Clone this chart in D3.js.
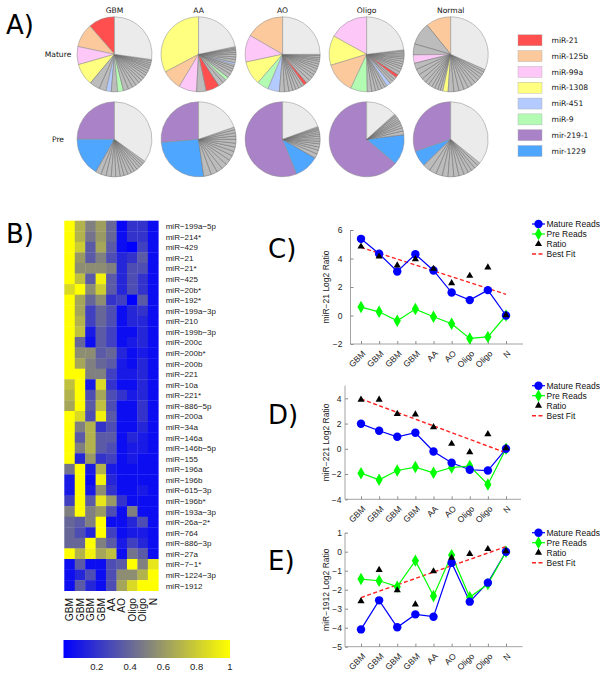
<!DOCTYPE html>
<html><head><meta charset="utf-8">
<script src="https://cdn.jsdelivr.net/npm/d3@7"></script>
<style>body{margin:0;background:#fff}</style>
</head><body>
<svg id="chart" width="605" height="675" xmlns="http://www.w3.org/2000/svg"></svg>
<script>
// ---------------- DATA ----------------
const pieGroups = ["GBM", "AA", "AO", "Oligo", "Normal"];
const pieRows = ["Mature", "Pre"];
const legendKeys = ["miR-21", "miR-125b", "miR-99a", "miR-1308", "miR-451", "miR-9", "mir-219-1", "mir-1229"];
const legendColors = ["#ff4f4f", "#fbc99b", "#fdc8f7", "#ffff80", "#b4cbff", "#b3fbb3", "#a982c7", "#4fa6ff"];
// slices counter-clockwise from 12 o'clock, values in degrees; "g" = other listed miRNA, "other" = remainder
const matureGBM = [["miR-21",41],["miR-125b",37],["miR-99a",28],["miR-1308",34],["g",16],["g",11],["miR-451",8],["g",10],["miR-9",9],
  ["g",8],["g",7],["g",6],["g",6],["g",5],["g",5],["g",5],["g",4],["g",4],["g",4],["g",3],["g",3],["g",3],["g",3],["g",2],["other",98]];
const matureAA = [["miR-1308",118],["miR-125b",31],["miR-99a",28],["g",15],["miR-21",21],["g",8],["g",6],["miR-9",5],
  ["g",6],["g",5],["g",4],["g",4],["g",3],["miR-451",3],["g",5],["g",4],["g",4],["g",3],["g",3],["g",2],["g",2],["g",2],["other",78]];
const matureAO = [["miR-125b",60],["miR-99a",42],["miR-1308",37],["miR-9",18],["miR-451",18],["g",8],["g",7],["g",6],["g",5],["g",5],["g",5],["g",4],
  ["miR-21",5],["g",6],["g",6],["g",5],["g",5],["g",5],["g",4],["g",4],["g",4],["g",3],["g",3],["g",3],["g",2],["other",90]];
const matureOligo = [["miR-99a",61],["miR-1308",46],["miR-125b",48],["miR-9",26],["g",7],["g",6],["g",5],["g",5],["g",5],["g",4],["miR-451",6],
  ["g",5],["g",4],["g",4],["miR-21",5],["g",5],["g",5],["g",4],["g",4],["g",4],["g",4],["g",3],["g",3],["g",3],["g",3],["g",2],["other",83]];
const matureNormal = [["miR-125b",39],["g",35],["g",17],["miR-99a",13],["g",10],["g",9],["g",8],["g",7],["g",6],["g",6],["g",5],["g",5],["g",4],["g",4],
  ["miR-1308",8],["g",9],["g",8],["g",8],["g",7],["g",7],["g",6],["g",6],["g",5],["g",5],["g",5],["g",4],["other",114]];
const preGBM = [["mir-219-1",90],["mir-1229",60],["g",9],["g",8],["g",8],["g",7],["g",7],["g",6],["g",6],["g",6],["g",5],["g",5],["g",5],["g",4],["g",4],["g",4],["other",126]];
const preAA = [["mir-219-1",95],["mir-1229",93],["g",12],["g",10],["g",9],["g",9],["g",8],["g",8],["g",7],["g",7],["g",6],["g",6],["g",5],["g",5],["g",5],["g",4],["other",71]];
const preAO = [["mir-219-1",202],["mir-1229",38],["g",7],["g",6],["g",5],["g",5],["g",4],["g",4],["g",4],["g",3],["g",3],["g",3],["g",2],["g",2],["g",2],["other",70]];
const preOligo = [["mir-219-1",230],["mir-1229",47],["g",6],["g",5],["g",4],["g",4],["g",3],["g",3],["g",3],["g",3],["g",2],["g",2],["other",48]];
const preNormal = [["mir-219-1",109],["mir-1229",25],["g",12],["g",11],["g",10],["g",9],["g",9],["g",8],["g",8],["g",7],["g",6],["g",6],["g",6],["g",5],["other",129]];

const heatRows = ["miR-199a-5p","miR-214*","miR-429","miR-21","miR-21*","miR-425","miR-20b*","miR-192*","miR-199a-3p","miR-210",
  "miR-199b-3p","miR-200c","miR-200b*","miR-200b","miR-221","miR-10a","miR-221*","miR-886-5p","miR-200a","miR-34a",
  "miR-146a","miR-146b-5p","miR-155","miR-196a","miR-196b","miR-615-3p","miR-196b*","miR-193a-3p","miR-26a-2*","miR-764",
  "miR-886-3p","miR-27a","miR-7-1*","miR-1224-3p","miR-1912"];
const heatCols = ["GBM","GBM","GBM","GBM","AA","AO","Oligo","Oligo","N"];
const heatValues = [
  [1,0.7,0.5,0.62,0.4,0.03,0.2,0.2,0.05],
  [1,0.7,0.45,0.6,0.4,0.05,0.2,0.2,0.05],
  [1,0.8,0.35,0.65,0.35,0.05,0.0,0.25,0.05],
  [1,0.6,0.35,0.5,0.3,0.15,0.2,0.35,0.05],
  [1,0.55,0.55,0.55,0.5,0.15,0.3,0.3,0.05],
  [1,0.75,0.35,0.95,0.35,0.15,0.3,0.2,0.05],
  [0.85,1,0.55,0.8,0.35,0.15,0.3,0.2,0.05],
  [1,0.65,0.4,0.55,0.2,0.25,0.0,0.35,0.05],
  [1,0.65,0.25,0.4,0.3,0.05,0.15,0.2,0.05],
  [1,0.7,0.25,0.4,0.3,0.05,0.15,0.15,0.05],
  [1,0.75,0.1,0.35,0.25,0.05,0.05,0.15,0.05],
  [1,0.4,0.05,0.35,0.25,0.05,0.1,0.15,0.05],
  [1,0.55,0.55,0.35,0.4,0.15,0.05,0.1,0.05],
  [1,0.65,0.5,0.4,0.35,0.1,0.05,0.15,0.05],
  [1,1,0.5,0.5,0.25,0.1,0.1,0.15,0.05],
  [0.75,1,0.1,0.85,0.2,0.05,0.05,0.15,0.05],
  [0.7,1,0.3,0.65,0.3,0.2,0.1,0.15,0.05],
  [0.65,1,0.35,0.75,0.3,0.05,0.05,0.2,0.05],
  [1,0.85,0.3,0.95,0.35,0.05,0.05,0.2,0.05],
  [1,0.5,0.7,0.2,0.3,0.05,0.05,0.15,0.05],
  [1,0.35,0.7,0.35,0.35,0.05,0.15,0.1,0.05],
  [1,0.5,0.7,0.35,0.3,0.05,0.1,0.1,0.05],
  [1,0.15,0.6,0.2,0.25,0.05,0.1,0.05,0.05],
  [0.45,1,0.1,0.7,0.1,0.05,0.05,0.05,0.05],
  [0.1,1,0.05,0.95,0.15,0.05,0.05,0.05,0.05],
  [0.1,1,0.1,0.55,0.2,0.05,0.05,0.1,0.05],
  [0.25,1,0.35,0.9,0.6,0.2,0.05,0.05,0.05],
  [0.5,1,0.5,0.6,0.3,0.05,0.5,0.05,0.05],
  [0.4,0.35,0.5,1,0.05,0.05,0.15,0.3,0.05],
  [0.4,0.3,0.15,1,0.25,0.05,0.1,0.1,0.05],
  [0.4,0.4,1,0.5,0.35,0.1,0.25,0.15,0.05],
  [1,0.7,0.95,0.65,0.75,0.05,0.45,0.35,0.05],
  [0.05,0.35,0.05,0.05,0.3,0.35,1,0.5,0.9],
  [0.05,0.15,0.3,0.05,0.3,0.55,0.55,0.7,1],
  [0.05,0.35,0.15,0.05,0.3,0.65,0.85,1,1]
];
const colorbarTicks = [0.2, 0.4, 0.6, 0.8, 1];

const samples = ["GBM","GBM","GBM","GBM","AA","AO","Oligo","Oligo","N"];
const mir21Mature = [5.38,4.33,3.09,4.3,3.16,1.61,1.08,1.78,0];
const mir21Pre = [0.59,0.26,-0.37,0.45,-0.09,-0.58,-1.61,-1.5,0];
const mir21Ratio = [4.84,4.14,3.51,3.96,3.28,2.27,2.79,3.37,0.03];
const mir221Mature = [1.98,1.43,0.95,1.27,-0.21,-1.11,-1.66,-1.72,0];
const mir221Pre = [-1.93,-2.46,-1.72,-1.45,-1.9,-1.48,-1.37,-2.83,0];
const mir221Ratio = [3.9,3.9,2.77,2.72,1.71,0.4,-0.27,1.16,0.05];
const mir1912Mature = [-4.09,-2.56,-3.98,-3.3,-3.42,-0.58,-2.63,-1.63,0];
const mir1912Pre = [-1.44,-1.53,-1.84,-0.47,-2.33,-0.18,-2.4,-1.7,0];
const mir1912Ratio = [-2.6,-0.96,-2.03,-2.77,-1.03,-0.32,-0.12,0.14,0.03];
const lineLegend = ["Mature Reads", "Pre Reads", "Ratio", "Best Fit"];

// ---------------- DRAW ----------------
const svg = d3.select("#chart");
svg.append("rect").attr("width",605).attr("height",675).attr("fill","#fff");
const dv = "DejaVu Sans, sans-serif";
const hv = "Liberation Sans, Arial, Helvetica, sans-serif";

function panelLabel(t, x, y) {
  svg.append("text").attr("x",x).attr("y",y).attr("font-family",dv).attr("font-size",26).attr("fill","#000").text(t);
}
panelLabel("A)", 6, 34);
panelLabel("B)", 6, 243);
panelLabel("C)", 268, 258);
panelLabel("D)", 268, 424);
panelLabel("E)", 268, 570);

// ---- Panel A: pies ----
const colorOf = Object.fromEntries(legendKeys.map((k,i)=>[k,legendColors[i]]));
colorOf["g"] = "#bcbcbc"; colorOf["other"] = "#ebebeb";
const pieTable = {
  Mature: {GBM: matureGBM, AA: matureAA, AO: matureAO, Oligo: matureOligo, Normal: matureNormal},
  Pre: {GBM: preGBM, AA: preAA, AO: preAO, Oligo: preOligo, Normal: preNormal}
};
const pieX = d3.scalePoint().domain(pieGroups).range([114.5, 450.7]);
const pieY = d3.scalePoint().domain(pieRows).range([54.3, 139.3]);
const R = 37.5;
const pie = d3.pie().value(d=>d[1]).sort(null).startAngle(0).endAngle(-2*Math.PI);
const arc = d3.arc().innerRadius(0).outerRadius(R);
pieRows.forEach(row => {
  pieGroups.forEach(grp => {
    const g = svg.append("g").attr("transform",`translate(${pieX(grp)},${pieY(row)})`);
    g.selectAll("path").data(pie(pieTable[row][grp])).join("path")
      .attr("d",arc).attr("fill",d=>colorOf[d.data[0]])
      .attr("stroke",d=>d.data[0]==="g"?"#6a6a6a":"#8a8a8a").attr("stroke-width",0.5).attr("stroke-linejoin","round");
  });
  svg.append("text").attr("x",58).attr("y",pieY(row)+2.5).attr("text-anchor","middle")
    .attr("font-family",dv).attr("font-size",7.6).attr("fill","#111").text(row);
});
pieGroups.forEach(grp => {
  svg.append("text").attr("x",pieX(grp)).attr("y",12.5).attr("text-anchor","middle")
    .attr("font-family",dv).attr("font-size",7.6).attr("fill","#111").text(grp);
});
const legY = d3.scalePoint().domain(legendKeys).range([40.3, 151]);
legendKeys.forEach((k,i) => {
  svg.append("rect").attr("x",518).attr("y",legY(k)-5.5).attr("width",24).attr("height",11)
    .attr("fill",legendColors[i]).attr("stroke","#aaa").attr("stroke-width",0.4);
  svg.append("text").attr("x",551.5).attr("y",legY(k)+2.7).attr("font-family",dv).attr("font-size",7.6)
    .attr("fill","#111").text(k);
});

// ---- Panel B: heatmap ----
const heatColor = d3.scaleLinear().domain([0,0.5,1]).range(["#0000ff","#808080","#ffff00"]);
const hx = d3.scaleBand().domain(d3.range(heatCols.length)).range([64.3, 158.3]);
const hy = d3.scaleBand().domain(d3.range(heatRows.length)).range([220.7, 590.7]);
heatValues.forEach((row, r) => {
  svg.append("g").selectAll("rect").data(row).join("rect")
    .attr("x",(d,c)=>hx(c)).attr("y",hy(r)).attr("width",hx.bandwidth()+0.3).attr("height",hy.bandwidth()+0.3)
    .attr("fill",d=>heatColor(d));
});
svg.append("g").selectAll("text").data(heatRows).join("text")
  .attr("x",165.7).attr("y",(d,i)=>hy(i)+hy.bandwidth()/2+3.2)
  .attr("font-family",hv).attr("font-size",8).attr("fill","#222")
  .text(d=>d.replace(/-/g,"\u2212"));
svg.append("g").selectAll("text").data(heatCols).join("text")
  .attr("transform",(d,i)=>`translate(${hx(i)+hx.bandwidth()/2},598) rotate(-90)`)
  .attr("dy","0.36em").attr("text-anchor","end")
  .attr("font-family",hv).attr("font-size",10.2).attr("fill","#111").text(d=>d);
// colorbar
const cbScale = d3.scaleLinear().domain([0,1]).range([63.5, 230]);
const defs = svg.append("defs");
const grad = defs.append("linearGradient").attr("id","cbgrad");
[0,0.5,1].forEach(s => grad.append("stop").attr("offset",s).attr("stop-color",heatColor(s)));
svg.append("rect").attr("x",cbScale(0)).attr("y",640).attr("width",cbScale(1)-cbScale(0)).attr("height",18).attr("fill","url(#cbgrad)");
svg.append("g").selectAll("text").data(colorbarTicks).join("text")
  .attr("x",d=>cbScale(d)).attr("y",670).attr("text-anchor","middle")
  .attr("font-family",hv).attr("font-size",9.5).attr("fill","#222").text(d=>d3.format("~g")(d));

// ---- Panels C, D, E ----
const fmtTick = d => (d < 0 ? "\u2212" + Math.abs(d) : String(d));
function linearFit(vals) {
  const xs = vals.map((v,i)=>i+1);
  const mx = d3.mean(xs), my = d3.mean(vals);
  const b = d3.sum(xs.map((x,i)=>(x-mx)*(vals[i]-my))) / d3.sum(xs.map(x=>(x-mx)**2));
  return [1,9].map(x => [x, my + b*(x-mx)]);
}
function linePanel(o) {
  const x = d3.scaleLinear().domain([1,9]).range([361, 506]);
  const y = d3.scaleLinear().domain(o.domain).range([o.bottom, o.top]);
  const g = svg.append("g");
  const axisCol = "#8c8c8c";
  g.append("line").attr("x1",o.left).attr("x2",o.left).attr("y1",y(o.domain[0])).attr("y2",y(o.domain[1]))
    .attr("stroke",axisCol).attr("stroke-width",0.8);
  g.append("line").attr("x1",o.left).attr("x2",o.right).attr("y1",y(o.domain[0])).attr("y2",y(o.domain[0]))
    .attr("stroke",axisCol).attr("stroke-width",0.8);
  const yAxis = d3.axisLeft(y).tickValues(o.ticks).tickSizeInner(-3).tickSizeOuter(0).tickPadding(o.pad).tickFormat(fmtTick);
  const ya = g.append("g").attr("transform",`translate(${o.left},0)`).call(yAxis);
  ya.select(".domain").remove();
  ya.selectAll("line").attr("stroke",axisCol);
  ya.selectAll("text").attr("font-family",hv).attr("font-size",8.5).attr("fill","#222");
  const xa = g.append("g").attr("transform",`translate(0,${y(o.domain[0])})`)
    .call(d3.axisBottom(x).tickValues(d3.range(1,10)).tickSizeInner(-3).tickSizeOuter(0).tickFormat(""));
  xa.select(".domain").remove();
  xa.selectAll("line").attr("stroke",axisCol);
  g.append("g").selectAll("text").data(samples).join("text")
    .attr("transform",(d,i)=>`translate(${x(i+1)+3},${y(o.domain[0])+8}) rotate(-45)`)
    .attr("text-anchor","end").attr("dy","0.35em")
    .attr("font-family",hv).attr("font-size",8.5).attr("fill","#222").text(d=>d);
  g.append("text").attr("transform",`translate(326.5,${(y(o.domain[0])+y(o.domain[1]))/2}) rotate(-90)`)
    .attr("text-anchor","middle").attr("dy","0.35em")
    .attr("font-family",hv).attr("font-size",8.5).attr("fill","#222").text(o.ylabel);
  const line = d3.line().x((d,i)=>x(i+1)).y(d=>y(d));
  const fit = linearFit(o.ratio);
  g.append("path").attr("d",d3.line().x(d=>x(d[0])).y(d=>y(d[1]))(fit))
    .attr("fill","none").attr("stroke","#ff2020").attr("stroke-width",1.4).attr("stroke-dasharray","4,2.5");
  g.append("path").attr("d",line(o.mature)).attr("fill","none").attr("stroke","#0000ff").attr("stroke-width",1.2);
  g.append("path").attr("d",line(o.pre)).attr("fill","none").attr("stroke","#00ff00").attr("stroke-width",1.2);
  const diamond = d3.symbol().type(d3.symbolDiamond).size(45);
  const tri = d3.symbol().type(d3.symbolTriangle).size(22);
  g.append("g").selectAll("path").data(o.pre).join("path")
    .attr("transform",(d,i)=>`translate(${x(i+1)},${y(d)})`).attr("d",diamond).attr("fill","#00ff00");
  g.append("g").selectAll("circle").data(o.mature).join("circle")
    .attr("cx",(d,i)=>x(i+1)).attr("cy",d=>y(d)).attr("r",4.2).attr("fill","#0000ff");
  g.append("g").selectAll("path").data(o.ratio).join("path")
    .attr("transform",(d,i)=>`translate(${x(i+1)},${y(d)})`).attr("d",tri).attr("fill","#000");
  const ly = d3.scalePoint().domain(lineLegend).range([o.legendTop, o.legendTop+30]);
  const lx0 = 532, lx1 = 545, lm = 538.5;
  lineLegend.forEach(k => {
    const yy = ly(k);
    if (k === "Mature Reads") {
      g.append("line").attr("x1",lx0).attr("x2",lx1).attr("y1",yy).attr("y2",yy).attr("stroke","#0000ff").attr("stroke-width",1.2);
      g.append("circle").attr("cx",lm).attr("cy",yy).attr("r",4.2).attr("fill","#0000ff");
    } else if (k === "Pre Reads") {
      g.append("line").attr("x1",lx0).attr("x2",lx1).attr("y1",yy).attr("y2",yy).attr("stroke","#00ff00").attr("stroke-width",1.2);
      g.append("path").attr("transform",`translate(${lm},${yy})`).attr("d",diamond).attr("fill","#00ff00");
    } else if (k === "Ratio") {
      g.append("path").attr("transform",`translate(${lm},${yy})`).attr("d",tri).attr("fill","#000");
    } else {
      g.append("line").attr("x1",lx0).attr("x2",lx1).attr("y1",yy).attr("y2",yy).attr("stroke","#ff2020")
        .attr("stroke-width",1.4).attr("stroke-dasharray","4,2.5");
    }
    g.append("text").attr("x",546.5).attr("y",yy).attr("dy","0.35em").attr("font-family",hv).attr("font-size",8.5)
      .attr("fill","#111").text(k);
  });
}
linePanel({domain:[-2,6], ticks:[-2,0,2,4,6], top:230, bottom:344, left:350.5, right:523, pad:8,
  mature:mir21Mature, pre:mir21Pre, ratio:mir21Ratio, ylabel:"miR\u221221 Log2 Ratio", legendTop:224});
linePanel({domain:[-4,5], ticks:[-4,-2,0,2,4], top:385.7, bottom:499.3, left:345, right:521, pad:3.5,
  mature:mir221Mature, pre:mir221Pre, ratio:mir221Ratio, ylabel:"miR\u2212221 Log2 Ratio", legendTop:385.7});
linePanel({domain:[-5,1], ticks:[-5,-4,-3,-2,-1,0,1], top:532.7, bottom:646.7, left:345, right:522.5, pad:3,
  mature:mir1912Mature, pre:mir1912Pre, ratio:mir1912Ratio, ylabel:"miR\u22121912 Log2 Ratio", legendTop:532.7});
</script>
</body></html>
